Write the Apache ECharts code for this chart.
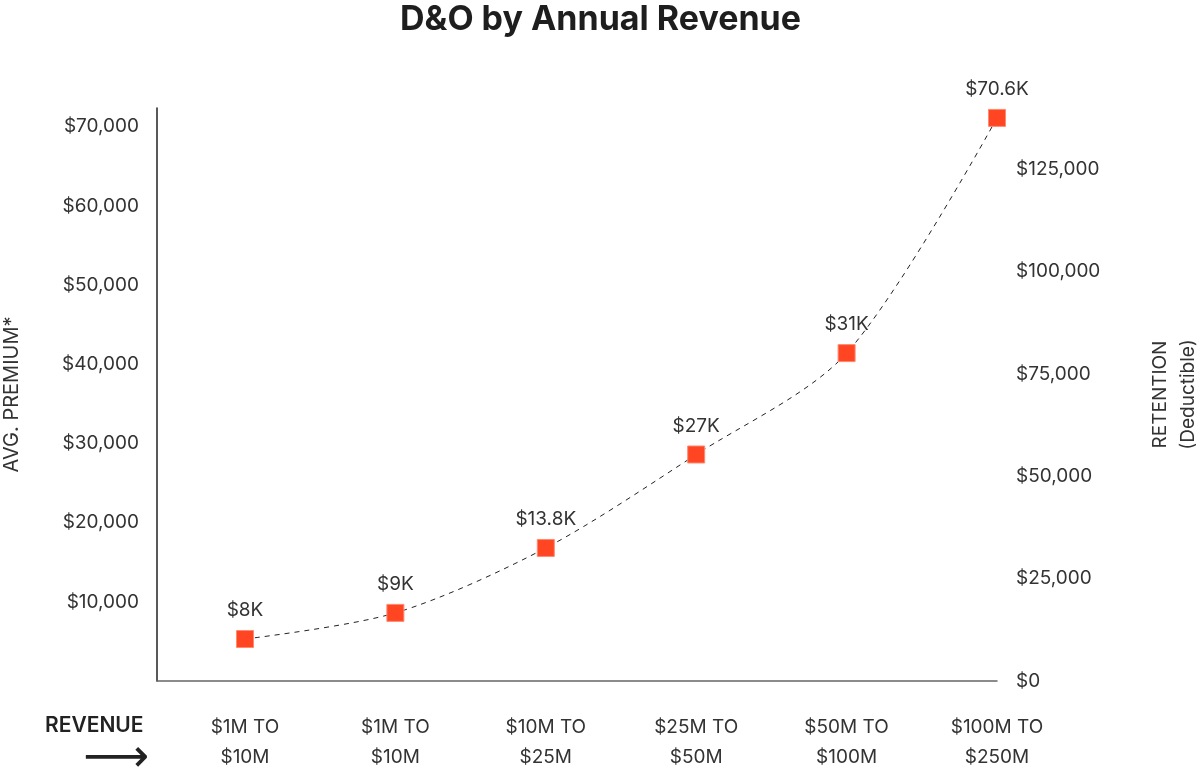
<!DOCTYPE html>
<html>
<head>
<meta charset="utf-8">
<script src="https://cdn.jsdelivr.net/npm/echarts@6/dist/echarts.min.js"></script>
<style>
html,body{margin:0;padding:0;background:#fff;}
#chart{width:1201px;height:770px;}
</style>
</head>
<body>
<div id="chart"></div>
<script>
// ---- data ----
const categories = ['$1M TO\n$10M', '$1M TO\n$10M', '$10M TO\n$25M', '$25M TO\n$50M', '$50M TO\n$100M', '$100M TO\n$250M'];
const premium = [5300, 8600, 16800, 28600, 41400, 71100];
const pointLabels = ['$8K', '$9K', '$13.8K', '$27K', '$31K', '$70.6K'];
const leftTickStep = 10000;
const rightTickStep = 25000;
const titleText = 'D&O by Annual Revenue';
const leftName = 'AVG. PREMIUM*';
const rightName = 'RETENTION\n(Deductible)';
const xName = 'REVENUE';

const FONT = 'Inter, "Liberation Sans", sans-serif';
const fmt = v => '$' + v.toLocaleString('en-US');

const chart = echarts.init(document.getElementById('chart'));
chart.setOption({
  backgroundColor: '#fff',
  animation: false,
  title: {
    text: titleText,
    left: 'center',
    top: 0,
    padding: 0,
    textStyle: { fontFamily: FONT, fontSize: 34, fontWeight: 700, color: '#1e1e1e', lineHeight: 40 }
  },
  grid: { left: 157, right: 204, top: 108, bottom: 89, containLabel: false, outerBoundsMode: 'none' },
  xAxis: {
    type: 'value',
    min: -0.585,
    max: 5,
    axisLine: { show: true, onZero: false, lineStyle: { color: '#666', width: 1.5 } },
    axisTick: { show: false },
    splitLine: { show: false },
    axisLabel: {
      customValues: [0, 1, 2, 3, 4, 5],
      formatter: v => (Number.isInteger(v) && categories[v] !== undefined) ? categories[v] : '',
      fontFamily: FONT, fontSize: 19, color: '#333', lineHeight: 30, margin: 31, align: 'center'
    }
  },
  yAxis: [
    {
      type: 'value',
      position: 'left',
      min: 0,
      max: 72350,
      interval: leftTickStep,
      name: leftName,
      nameLocation: 'middle',
      nameRotate: 90,
      nameGap: 135,
      nameTextStyle: { fontFamily: FONT, fontSize: 20, color: '#333' },
      axisLine: { show: true, onZero: false, lineStyle: { color: '#222', width: 1.5 } },
      axisTick: { show: false },
      splitLine: { show: false },
      axisLabel: {
        formatter: v => (v > 0 && v % leftTickStep === 0) ? fmt(v) : '',
        fontFamily: FONT, fontSize: 19, color: '#333', margin: 18
      }
    },
    {
      type: 'value',
      position: 'right',
      min: 0,
      max: 140000,
      interval: rightTickStep,
      name: rightName,
      nameLocation: 'middle',
      nameRotate: 90,
      nameGap: 149,
      nameTextStyle: { fontFamily: FONT, fontSize: 19, color: '#333', lineHeight: 28, align: 'center' },
      axisLine: { show: false, onZero: false },
      axisTick: { show: false },
      splitLine: { show: false },
      axisLabel: {
        formatter: v => (v % rightTickStep === 0) ? fmt(v) : '',
        fontFamily: FONT, fontSize: 19, color: '#333', margin: 19
      }
    }
  ],
  graphic: [
    {
      type: 'text', left: 45, top: 715,
      style: { text: xName, fontFamily: FONT, fontSize: 21, fontWeight: 600, fill: '#222' }
    },
    {
      type: 'text', left: 83, top: 736,
      style: { text: '⟶', fontFamily: '"DejaVu Sans", sans-serif', fontSize: 46, fill: '#222' }
    }
  ],
  series: [{
    type: 'line',
    xAxisIndex: 0,
    yAxisIndex: 0,
    data: premium.map((v, i) => [i, v]),
    smooth: 0.3,
    clip: false,
    symbol: 'rect',
    symbolSize: 17,
    itemStyle: { color: '#FF4522', borderColor: '#FF8A70', borderWidth: 1 },
    lineStyle: { color: '#222', width: 1, type: [5, 5] },
    label: {
      show: true,
      position: 'top',
      distance: 10,
      formatter: p => pointLabels[p.dataIndex],
      fontFamily: FONT, fontSize: 19, color: '#333'
    },
    z: 3
  }]
});
</script>
</body>
</html>
